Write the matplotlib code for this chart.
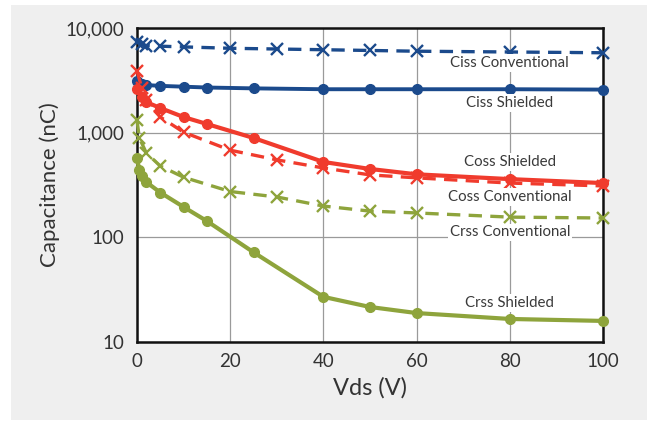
import matplotlib
matplotlib.use("Agg")
import matplotlib.pyplot as plt
from matplotlib.patches import Rectangle
from matplotlib.ticker import FixedLocator, FuncFormatter, NullLocator

plt.rcParams['font.family'] = ['Lato', 'DejaVu Sans']

# ---- data ----
ciss_conv_x = [0, 1, 2, 5, 10, 20, 30, 40, 50, 60, 80, 100]
ciss_conv_y = [7300, 7000, 6800, 6700, 6600, 6400, 6300, 6200, 6100, 6000, 5900, 5800]

ciss_sh_x = [0, 1, 2, 5, 10, 15, 25, 40, 50, 60, 80, 100]
ciss_sh_y = [3100, 2900, 2850, 2800, 2750, 2700, 2650, 2600, 2600, 2600, 2600, 2580]

coss_sh_x = [0, 1, 2, 5, 10, 15, 25, 40, 50, 60, 80, 100]
coss_sh_y = [2600, 2200, 1960, 1720, 1410, 1210, 890, 525, 450, 400, 360, 330]

coss_conv_x = [0, 1, 2, 5, 10, 20, 30, 40, 50, 60, 80, 100]
coss_conv_y = [3900, 2700, 2050, 1410, 1010, 680, 550, 460, 395, 370, 330, 310]

crss_conv_x = [0, 0.5, 2, 5, 10, 20, 30, 40, 50, 60, 80, 100]
crss_conv_y = [1320, 890, 640, 480, 375, 274, 243, 199, 178, 171, 156, 153]

crss_sh_x = [0, 0.5, 1, 2, 5, 10, 15, 25, 40, 50, 60, 80, 100]
crss_sh_y = [570, 440, 385, 337, 268, 195, 143, 72, 27, 21.6, 18.9, 16.6, 15.9]

labels = ["Ciss Conventional", "Ciss Shielded", "Coss Shielded",
          "Coss Conventional", "Crss Conventional", "Crss Shielded"]
label_x = [80, 80, 80, 80, 80, 80]
label_y = [4620, 1920, 524, 243, 112, 23.6]

y_ticks = [10, 100, 1000, 10000]
x_ticks = [0, 20, 40, 60, 80, 100]

BLUE = "#1b4a8c"
RED = "#f03b2d"
GREEN = "#8ea43c"

fig = plt.figure(figsize=(6.47, 4.22), dpi=100)
fig.patch.set_facecolor("white")
fig.patches.append(Rectangle((11/647, 2/422), 1 - 11/647, 1 - 7/422,
                             transform=fig.transFigure, facecolor="#efefef",
                             edgecolor="none", zorder=-10))

ax = fig.add_axes([137/647, 1 - 342/422, (603 - 137)/647, (342 - 28)/422])
ax.set_facecolor("white")
ax.set_yscale("log")
ax.set_xlim(0, 100)
ax.set_ylim(10, 10000)

ax.yaxis.set_major_locator(FixedLocator(y_ticks))
ax.yaxis.set_minor_locator(NullLocator())
ax.yaxis.set_major_formatter(FuncFormatter(lambda v, p: f"{int(round(v)):,}"))
ax.xaxis.set_major_locator(FixedLocator(x_ticks))
ax.grid(True, color="#9a9a9a", linewidth=0.9)
ax.set_axisbelow(True)
ax.tick_params(axis="y", length=0, labelsize=13.5, colors="#333333", pad=9)
ax.tick_params(axis="x", length=0, labelsize=13.5, colors="#333333", pad=8)
for s in ax.spines.values():
    s.set_linewidth(1.8)
    s.set_color("#111111")

ax.plot(ciss_conv_x, ciss_conv_y, color=BLUE, lw=2.4, ls=(0, (4, 2.5)),
        marker="x", ms=8.5, mew=1.7, clip_on=False, zorder=3)
ax.plot(ciss_sh_x, ciss_sh_y, color=BLUE, lw=2.8, marker="o", ms=7,
        clip_on=False, zorder=3)
ax.plot(coss_sh_x, coss_sh_y, color=RED, lw=3.0, marker="o", ms=7,
        clip_on=False, zorder=3)
ax.plot(coss_conv_x, coss_conv_y, color=RED, lw=2.4, ls=(0, (4, 2.5)),
        marker="x", ms=8.5, mew=1.7, clip_on=False, zorder=3)
ax.plot(crss_conv_x, crss_conv_y, color=GREEN, lw=2.4, ls=(0, (4, 2.5)),
        marker="x", ms=8.5, mew=1.7, clip_on=False, zorder=3)
ax.plot(crss_sh_x, crss_sh_y, color=GREEN, lw=3.0, marker="o", ms=7,
        clip_on=False, zorder=3)

for t, lx, ly in zip(labels, label_x, label_y):
    ax.text(lx, ly, t, ha="center", va="center", fontsize=10.8, color="#3a3a3a",
            bbox=dict(facecolor="white", edgecolor="none", pad=1.2), zorder=4)

ax.set_xlabel("Vds (V)", fontsize=17, color="#333333", labelpad=5)
ax.set_ylabel("Capacitance (nC)", fontsize=16, color="#333333", labelpad=4)

fig.savefig("out.png", dpi=100, facecolor=fig.get_facecolor())
